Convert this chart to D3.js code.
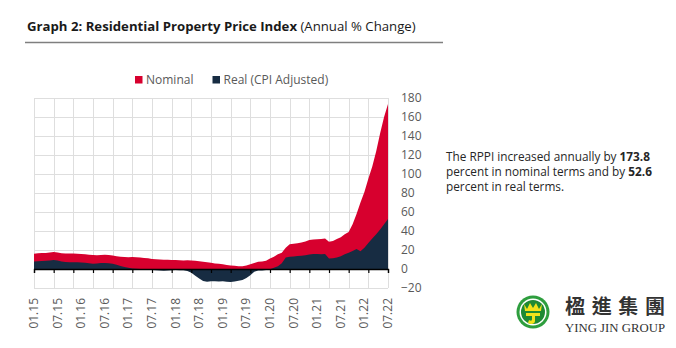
<!DOCTYPE html>
<html>
<head>
<meta charset="utf-8">
<script src="https://cdn.jsdelivr.net/npm/d3@7"></script>
<style>
  body { margin: 0; background: #fff; }
  svg { display: block; font-family: "Open Sans", sans-serif; }
</style>
</head>
<body>
<div id="chart"></div>
<script>
// monthly annual % change, Jan 2015 .. Jul 2022
const nominal = [
  16.0, 16.5, 16.8, 16.9, 17.3, 17.8, 17.5, 16.5, 16.2, 16.3, 16.2, 16.0,
  15.8, 15.5, 15.0, 14.8, 14.6, 14.8, 15.0, 14.7, 14.2, 13.5, 13.0, 12.6,
  12.4, 12.6, 12.5, 12.0, 11.6, 11.2, 10.6, 10.2, 10.0, 9.8, 9.7, 9.6,
  9.4, 9.2, 9.0, 9.1, 9.0, 8.8, 8.2, 7.6, 7.0, 6.5, 5.8, 5.4,
  5.0, 4.2, 3.6, 3.4, 2.8, 3.0, 3.8, 5.0, 6.4, 7.6, 8.0, 8.6,
  11.0, 13.0, 15.5, 17.0, 22.5, 26.0, 26.5, 27.0, 28.0, 29.0, 30.5, 31.0,
  31.2, 31.5, 32.0, 28.8, 29.5, 31.5, 33.5, 36.5, 39.0, 47.0, 58.0, 70.0,
  81.0, 95.0, 108.0, 124.0, 143.0, 160.0, 173.8
]
const real = [
  8.0, 8.2, 8.4, 8.6, 9.0, 9.4, 9.0, 7.8, 7.4, 7.2, 7.1, 7.0,
  6.8, 6.5, 6.0, 5.6, 5.8, 6.2, 6.3, 6.0, 5.6, 4.6, 3.2, 2.2,
  1.2, 0.6, 0.2, 0.0, -0.3, -0.6, -1.0, -1.4, -1.6, -1.8, -1.6, -1.2,
  -1.0, -1.2, -1.4, -2.2, -4.0, -7.0, -10.0, -12.5, -13.4, -13.0, -12.8, -13.2,
  -13.0, -13.5, -13.6, -13.2, -12.4, -11.5, -9.5, -6.5, -3.0, -1.6, -1.5, -1.0,
  -0.2, 1.2, 2.8, 6.0, 12.0, 13.0, 13.2, 13.6, 14.0, 14.5, 15.2, 15.8,
  15.8, 15.6, 15.8, 11.0, 11.2, 12.0, 13.5, 15.5, 17.0, 19.0, 21.0, 18.6,
  22.5, 27.5, 32.0, 36.5, 41.5, 47.0, 52.6
]
const tickLabels = ["01.15", "07.15", "01.16", "07.16", "01.17", "07.17", "01.18", "07.18",
  "01.19", "07.19", "01.20", "07.20", "01.21", "07.21", "01.22", "07.22"]
const yTicks = [-20, 0, 20, 40, 60, 80, 100, 120, 140, 160, 180]
const seriesNames = ["Nominal", "Real (CPI Adjusted)"]
const colors = ["#d7002e", "#172c42"]

const width = 676, height = 348
const plotLeft = 34, plotRight = 388, plotTop = 98, plotBottom = 288

const svg = d3.select('#chart').append('svg')
  .attr('width', width)
  .attr('height', height)

// title + rule
const title = svg.append('text').attr('x', 27).attr('y', 31)
  .attr('font-size', 13.2).attr('fill', '#1a1a1a')
title.append('tspan').attr('font-weight', 'bold').text('Graph 2: Residential Property Price Index')
title.append('tspan').text(' (Annual % Change)')
svg.append('line').attr('x1', 25).attr('x2', 443).attr('y1', 42.5).attr('y2', 42.5)
  .attr('stroke', '#7f7f7f').attr('stroke-width', 1.5)

const n = nominal.length
const x = d3.scaleLinear().domain([0, n - 1]).range([plotLeft, plotRight])
const y = d3.scaleLinear().domain([-20, 180]).range([plotBottom, plotTop])

// grid
const grid = svg.append('g').attr('stroke', '#dedede').attr('stroke-width', 1)
grid.selectAll('line.h').data(yTicks).join('line').attr('class', 'h')
  .attr('x1', plotLeft).attr('x2', plotRight)
  .attr('y1', d => Math.round(y(d)) + 0.5).attr('y2', d => Math.round(y(d)) + 0.5)
const vIdx = d3.range(0, n, 5)
grid.selectAll('line.v').data(vIdx).join('line').attr('class', 'v')
  .attr('x1', d => Math.round(x(d)) + 0.5).attr('x2', d => Math.round(x(d)) + 0.5)
  .attr('y1', plotTop).attr('y2', plotBottom)

// areas
const area = vals => d3.area()
  .x((d, i) => x(i))
  .y0(y(0))
  .y1(d => y(d))(vals)
svg.append('path').attr('d', area(nominal)).attr('fill', colors[0])
svg.append('path').attr('d', area(real)).attr('fill', colors[1])

// zero axis with ticks on the gridlines
const axis = svg.append('g').attr('transform', `translate(0,${y(0)})`)
  .call(d3.axisBottom(x).tickValues(vIdx).tickSize(4).tickFormat(''))
axis.select('.domain').attr('stroke', '#000').attr('stroke-width', 1.3)
axis.selectAll('.tick line').attr('stroke', '#000').attr('stroke-width', 1.2)

// right value labels
const yAxis = svg.append('g').attr('transform', `translate(${plotRight + 13},0)`)
  .call(d3.axisRight(y).tickValues(yTicks).tickSize(0).tickPadding(0))
yAxis.select('.domain').remove()
yAxis.selectAll('text').attr('font-size', 12).attr('fill', '#595959')
  .attr('font-family', '"Open Sans", sans-serif')

// month labels every six months, rotated
svg.append('g').selectAll('text').data(tickLabels).join('text')
  .attr('transform', (d, i) => `translate(${x(i * 6) + 4},298) rotate(-90)`)
  .attr('text-anchor', 'end')
  .attr('font-size', 12)
  .attr('fill', '#595959')
  .text(d => d)

// legend
const legend = svg.append('g').attr('font-size', 12).attr('fill', '#595959')
const legX = [135, 212.5]
seriesNames.forEach((name, i) => {
  legend.append('rect').attr('x', legX[i]).attr('y', 76).attr('width', 7.5).attr('height', 7.5)
    .attr('fill', colors[i])
  legend.append('text').attr('x', legX[i] + 11).attr('y', 83.8).text(name)
})

// commentary
const note = svg.append('text').attr('font-size', 11.8).attr('fill', '#262626')
const lines = [
  ['The RPPI increased annually by ', nominal[n - 1].toFixed(1)],
  ['percent in nominal terms and by ', real[n - 1].toFixed(1)],
  ['percent in real terms.', null]
]
lines.forEach((l, i) => {
  note.append('tspan').attr('x', 446).attr('y', 161 + i * 15).text(l[0])
  if (l[1]) note.append('tspan').attr('font-weight', 'bold').text(l[1])
})

// company mark
const logo = svg.append('g').attr('transform', 'translate(533,312)')
logo.append('circle').attr('r', 16.5).attr('fill', '#2e9e3e')
logo.append('circle').attr('r', 13.5).attr('fill', '#fff')
logo.append('circle').attr('r', 12).attr('fill', '#1f8a33')
logo.append('path')
  .attr('d', 'M-9,-8 L-6,-3 L-3,-9 L0,-4 L3,-9 L6,-3 L9,-8 L8,-1 L-8,-1 Z')
  .attr('fill', '#f2e21b')
logo.append('path')
  .attr('d', 'M-7,1 L7,1 L7,4 L2,4 L2,9 C2,12 -2,13 -5,11 L-4,8 C-2,9 -1,9 -1,7 L-1,4 L-7,4 Z')
  .attr('fill', '#f2e21b')
svg.append('text').attr('x', 565).attr('y', 314)
  .attr('font-family', '"Noto Sans CJK TC", sans-serif')
  .attr('font-size', 20).attr('font-weight', 'bold').attr('fill', '#333')
  .attr('textLength', 100).attr('lengthAdjust', 'spacing')
  .text('楹進集團')
svg.append('text').attr('x', 565).attr('y', 332)
  .attr('font-family', '"Liberation Serif", serif')
  .attr('font-size', 13.5).attr('fill', '#333')
  .attr('textLength', 100).attr('lengthAdjust', 'spacingAndGlyphs')
  .text('YING JIN GROUP')
</script>
</body>
</html>
